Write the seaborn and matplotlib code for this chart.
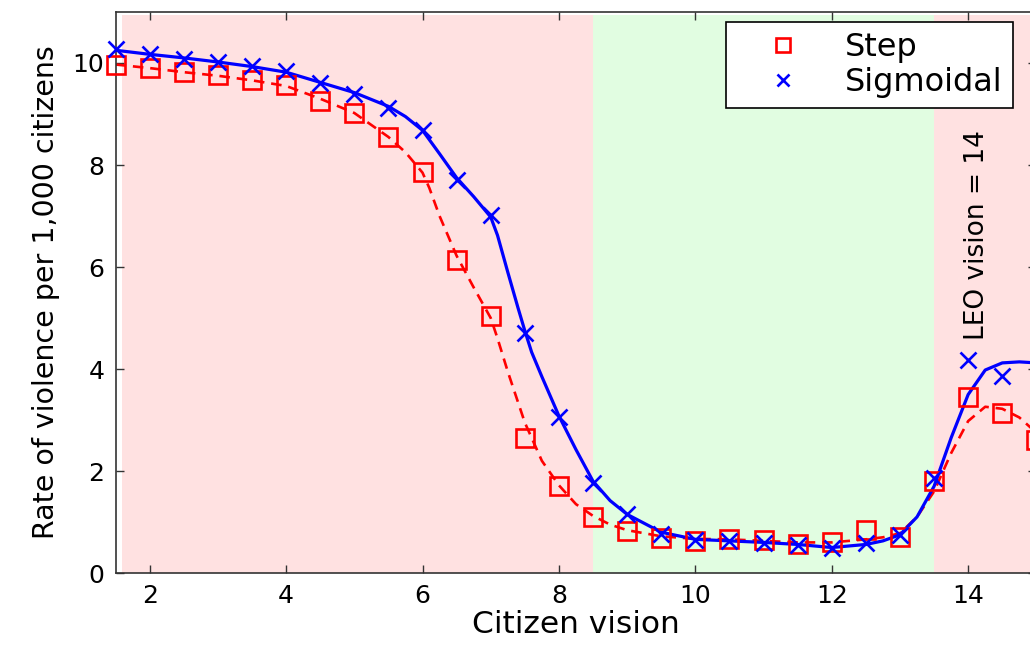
import matplotlib
matplotlib.use("Agg")
import matplotlib.pyplot as plt
import seaborn as sns

# marker values (one per half unit of citizen vision)
step_x = [1.5, 2, 2.5, 3, 3.5, 4, 4.5, 5, 5.5, 6, 6.5, 7, 7.5, 8, 8.5, 9, 9.5,
          10, 10.5, 11, 11.5, 12, 12.5, 13, 13.5, 14, 14.5, 15]
step_y = [9.97, 9.9, 9.83, 9.76, 9.67, 9.57, 9.26, 9.02, 8.55, 7.87, 6.14, 5.04,
          2.65, 1.7, 1.1, 0.82, 0.69, 0.63, 0.66, 0.64, 0.57, 0.6, 0.84, 0.71,
          1.8, 3.45, 3.13, 2.6]
sig_x = [1.5, 2, 2.5, 3, 3.5, 4, 4.5, 5, 5.5, 6, 6.5, 7, 7.5, 8, 8.5, 9, 9.5,
         10, 10.5, 11, 11.5, 12, 12.5, 13, 13.5, 14, 14.5]
sig_y = [10.27, 10.18, 10.08, 10.01, 9.95, 9.85, 9.6, 9.4, 9.12, 8.69, 7.71, 7.02,
         4.71, 3.06, 1.77, 1.15, 0.77, 0.65, 0.62, 0.58, 0.55, 0.5, 0.58, 0.75,
         1.87, 4.18, 3.86]

# fitted curves
step_fit_x = [1.5, 2, 2.5, 3, 3.5, 4, 4.5, 5, 5.5, 5.75, 6, 6.1, 6.25, 6.5, 6.75,
              7, 7.1, 7.25, 7.5, 7.75, 8, 8.25, 8.5, 8.75, 9, 9.5, 10, 10.5, 11,
              11.5, 12, 12.5, 12.75, 13, 13.25, 13.5, 13.75, 14, 14.25, 14.5,
              14.75, 15]
step_fit_y = [9.97, 9.9, 9.82, 9.75, 9.66, 9.55, 9.3, 9.02, 8.55, 8.25, 7.85, 7.55,
              7.0, 6.22, 5.6, 5.0, 4.6, 3.95, 2.95, 2.2, 1.72, 1.35, 1.12, 0.95,
              0.84, 0.72, 0.67, 0.66, 0.63, 0.6, 0.6, 0.66, 0.7, 0.78, 1.1, 1.6,
              2.35, 2.98, 3.26, 3.22, 3.05, 2.75]
sig_fit_x = [1.5, 2, 2.5, 3, 3.5, 4, 4.5, 5, 5.5, 5.75, 6, 6.25, 6.5, 6.75, 7,
             7.1, 7.25, 7.4, 7.5, 7.6, 7.75, 8, 8.25, 8.5, 8.75, 9, 9.5, 10,
             10.5, 11, 11.5, 12, 12.5, 12.75, 13, 13.25, 13.5, 13.75, 14, 14.25,
             14.5, 14.75, 15]
sig_fit_y = [10.25, 10.17, 10.1, 10.02, 9.93, 9.82, 9.62, 9.42, 9.15, 8.95, 8.68,
             8.22, 7.75, 7.38, 6.98, 6.62, 5.9, 5.2, 4.75, 4.33, 3.85, 3.08, 2.42,
             1.8, 1.42, 1.15, 0.8, 0.66, 0.63, 0.6, 0.56, 0.5, 0.56, 0.63, 0.75,
             1.1, 1.7, 2.65, 3.5, 3.98, 4.12, 4.14, 4.12]

sns.set_style("ticks", {"xtick.direction": "in", "ytick.direction": "in"})
plt.rcParams["font.family"] = ["DejaVu Sans"]
plt.rcParams["text.color"] = "black"
plt.rcParams["axes.labelcolor"] = "black"

fig = plt.figure(figsize=(10.3, 6.45), dpi=100)
ax = fig.add_axes([0.1122, 0.1116, 0.894, 0.8698])

# shaded regimes
ax.axvspan(1.6, 8.5, ymin=0.0, ymax=0.995, color="#ffe1e1", lw=0, zorder=0)
ax.axvspan(8.5, 13.5, ymin=0.0, ymax=0.995, color="#e1fde1", lw=0, zorder=0)
ax.axvspan(13.5, 15.5, ymin=0.0, ymax=0.995, color="#ffe1e1", lw=0, zorder=0)

sns.lineplot(x=step_fit_x, y=step_fit_y, ax=ax, color="red", lw=1.9,
             linestyle=(0, (4, 2.6)), legend=False, sort=False)
sns.lineplot(x=sig_fit_x, y=sig_fit_y, ax=ax, color="blue", lw=2.3,
             legend=False, sort=False)

sns.lineplot(x=step_x, y=step_y, ax=ax, marker="s", linestyle="", ms=13,
             mfc="none", mec="red", mew=1.9, color="red", label="Step",
             clip_on=False, zorder=5)
sns.lineplot(x=sig_x, y=sig_y, ax=ax, marker="x", linestyle="", ms=11,
             mec="blue", mew=1.9, color="blue", label="Sigmoidal",
             clip_on=False, zorder=5)

ax.text(14.13, 4.57, "LEO vision = 14", rotation=90, ha="center", va="bottom",
        fontsize=19)

ax.set_xlim(1.5, 15)
ax.set_ylim(0, 11)
ax.set_xticks([2, 4, 6, 8, 10, 12, 14])
ax.set_yticks([0, 2, 4, 6, 8, 10])
ax.tick_params(axis="both", which="both", direction="in", length=6, width=1,
               labelsize=18, top=True, right=True, pad=8, color="#333333",
               labelcolor="black")
for sp in ax.spines.values():
    sp.set_color("#333333")
    sp.set_linewidth(1.2)

ax.set_xlabel("Citizen vision", fontsize=22.5, labelpad=1)
ax.set_ylabel("Rate of violence per 1,000 citizens", fontsize=20.5, labelpad=9)

leg = ax.legend(loc="upper left", bbox_to_anchor=(726 / 1030, 1 - 22 / 645),
                bbox_transform=fig.transFigure, borderaxespad=0, fontsize=23,
                handlelength=2.9, handletextpad=0.5, labelspacing=0.12,
                borderpad=0.32, markerscale=0.75, fancybox=False,
                framealpha=1, edgecolor="black")
leg.get_frame().set_linewidth(1.2)

fig.savefig("out.png", dpi=100)
